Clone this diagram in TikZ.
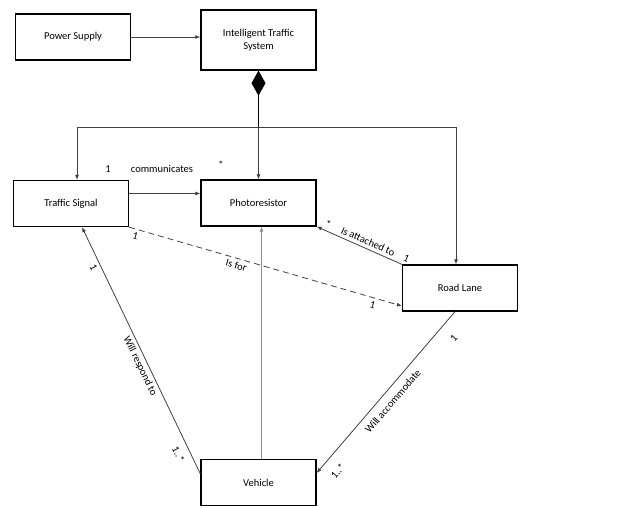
\documentclass[tikz,border=0pt]{standalone}
\usepackage{fontspec}
\setmainfont{Carlito}
\usetikzlibrary{positioning,calc,arrows.meta}

\tikzset{
  classbox/.style={draw, line width=1.3pt, minimum width=115pt, minimum height=46pt, align=center, font=\fontsize{10.5}{13}\selectfont},
  assoc/.style={draw=black!75, line width=0.8pt, -{Latex[length=5pt,width=4pt]}},
  composite/.style={draw=black, line width=0.8pt, {Diamond[length=25pt,width=14pt]}-},
  mult/.style={font=\fontsize{10.5}{12}\selectfont, inner sep=3pt},
}

\begin{document}
\begin{tikzpicture}[x=1pt,y=1pt]
    \useasboundingbox (0,0) rectangle (643,507);
    % Classes
    \node [classbox] (power) at (73,470) {Power Supply};
    \node [classbox, minimum height=60pt] (its) at (258.5,467) {Intelligent Traffic\\System};
    \node [classbox] (signal) at (71,303.5) {Traffic Signal};
    \node [classbox] (photo) at (258.5,304) {Photoresistor};
    \node [classbox] (lane) at (460,219) {Road Lane};
    \node [classbox] (vehicle) at (258.5,24.5) {Vehicle};

    % Power feed
    \draw [assoc] (power.east) -- (power.east -| its.west);

    % Composition
    \coordinate (split) at ($(its.south)+(0,-57)$);
    \draw [composite] (its.south) -- (split);
    \draw [assoc] (split) -| ([xshift=6]signal.north);
    \draw [assoc] (split) -- (photo.north);
    \draw [assoc] (split) -| ([xshift=-4]lane.north);

    % Traffic Signal - Photoresistor
    \coordinate (comm) at ([yshift=10]signal.east);
    \draw [assoc] (comm) -- (comm -| photo.west);
    \node [mult] (c1) at (108,338) {1};
    \node [mult] (ctext) at (162,338) {communicates};
    \node [mult] (cstar) at (221,342) {*};

    % Traffic Signal - Road Lane
    \draw [assoc, dashed, dash pattern=on 6pt off 4pt] (signal.south east) -- ([yshift=-18]lane.west)
        node [mult, pos=0.03, below, sloped] {1}
        node [mult, pos=0.4, below, sloped] {Is for}
        node [mult, pos=0.9, below, sloped] {1};

    % Road Lane - Photoresistor
    \draw [assoc] (lane.north west) -- (photo.south east)
        node [mult, pos=-0.02, above, sloped] {1}
        node [mult, pos=0.43, above, sloped] {Is attached to}
        node [mult, pos=0.9, above, sloped] {*};

    % Vehicle - Photoresistor
    \draw [assoc, draw=black!45] ([xshift=3]vehicle.north) -- ([xshift=3]photo.south);

    % Vehicle - Traffic Signal
    \coordinate (vl) at ([yshift=-15]vehicle.north west);
    \draw [assoc] (vl) -- ([xshift=11]signal.south)
        node [mult, pos=0.1, below=4pt, sloped] {1..*}
        node [mult, pos=0.45, below, sloped] {Will respond to}
        node [mult, pos=0.85, below, sloped] {1};

    % Road Lane - Vehicle
    \draw [assoc] ([xshift=-5]lane.south) -- ([yshift=9.5]vehicle.east)
        node [mult, pos=0.1, below=10pt, sloped] {1}
        node [mult, pos=0.51, below=4pt, sloped] {Will accommodate}
        node [mult, pos=0.93, below=8pt, sloped] {1..*};
\end{tikzpicture}
\end{document}
